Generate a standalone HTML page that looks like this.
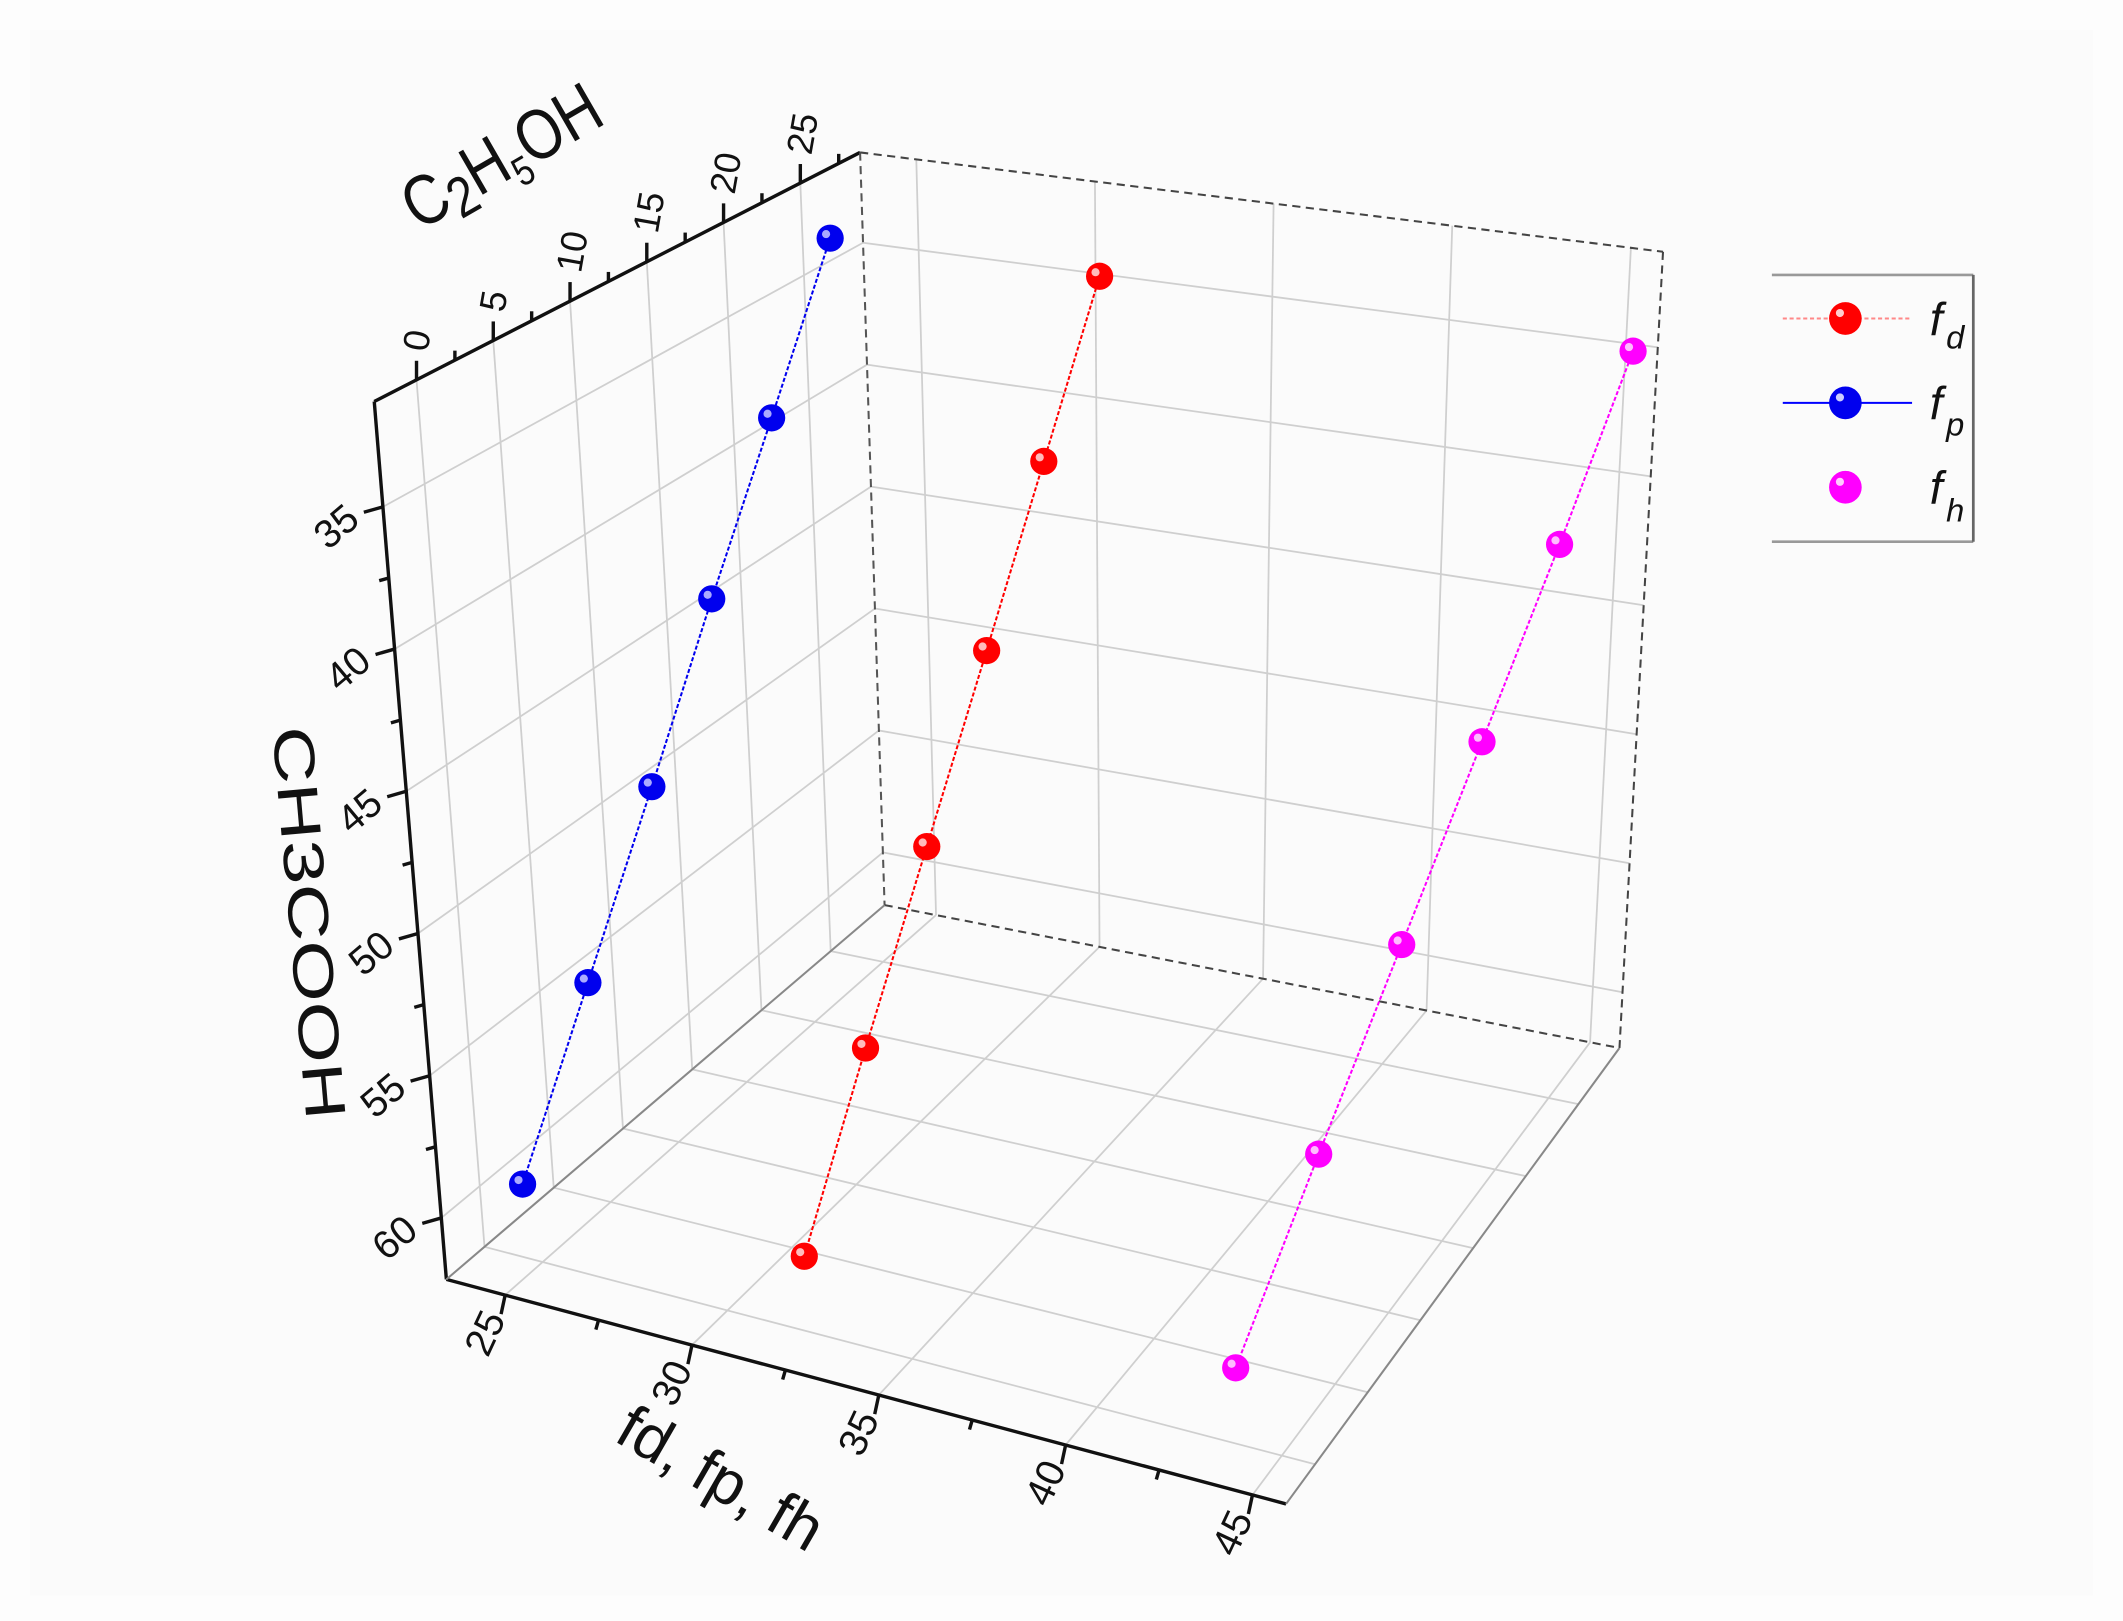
<!DOCTYPE html>
<html><head><meta charset="utf-8"><style>
html,body{margin:0;padding:0;background:#fff}
svg{display:block}
text{font-family:"Liberation Sans",sans-serif;fill:#111}
</style></head><body>
<svg id="s" width="2123" height="1621" viewBox="0 0 1560 1191" preserveAspectRatio="none" xmlns="http://www.w3.org/2000/svg">
<rect x="0" y="0" width="1560" height="1191" fill="#fdfdfd"/>
<rect x="22" y="22" width="1516" height="1150" fill="#fbfbfb"/>
<g id="grid" stroke="#cfcfcf" stroke-width="1.3" fill="none"></g>
<g id="frame" fill="none"></g>
<g id="data"></g>
<g id="labels"></g>
<text x="308" y="170" font-size="52" transform="rotate(-30 308 170)" textLength="160" lengthAdjust="spacingAndGlyphs">C<tspan font-size="42" dy="8">2</tspan><tspan dy="-8">H</tspan><tspan font-size="30" dy="10">5</tspan><tspan dy="-10">OH</tspan></text>
<text x="200" y="535" font-size="42" transform="rotate(85 200 535)" textLength="290" lengthAdjust="spacingAndGlyphs">CH3COOH</text>
<text x="450" y="1058" font-size="46" transform="rotate(30 450 1058)">fd, fp, fh</text>
<g>
<line x1="1302" y1="202" x2="1450" y2="202" stroke="#999" stroke-width="2"/>
<line x1="1302" y1="398" x2="1450" y2="398" stroke="#999" stroke-width="2"/>
<line x1="1450" y1="202" x2="1450" y2="398" stroke="#666" stroke-width="2"/>
<line x1="1310" y1="234" x2="1405" y2="234" stroke="#f88" stroke-width="1.5" stroke-dasharray="3,2"/>
<line x1="1310" y1="296" x2="1405" y2="296" stroke="#00f" stroke-width="1.5"/>
<circle cx="1356" cy="234" r="12" fill="#f00"/><circle cx="1352" cy="230" r="3" fill="#fcc"/>
<circle cx="1356" cy="296" r="12" fill="#00e"/><circle cx="1352" cy="292" r="3" fill="#ccf"/>
<circle cx="1356" cy="358" r="12" fill="#f0f"/><circle cx="1352" cy="354" r="3" fill="#fcf"/>
<text x="1418" y="246" font-size="34" font-style="italic">f</text><text x="1430" y="256" font-size="24" font-style="italic">d</text>
<text x="1418" y="308" font-size="34" font-style="italic">f</text><text x="1430" y="320" font-size="24" font-style="italic">p</text>
<text x="1418" y="370" font-size="34" font-style="italic">f</text><text x="1430" y="383" font-size="24" font-style="italic">h</text>
</g>
<script>
(function(){
var NS="http://www.w3.org/2000/svg";
function el(p,t,a,txt){var e=document.createElementNS(NS,t);for(var k in a)e.setAttribute(k,a[k]);if(txt)e.textContent=txt;p.appendChild(e);return e;}
function L(a,b,t){return [a[0]+(b[0]-a[0])*t,a[1]+(b[1]-a[1])*t];}
var TLF=[275,295],TBL=[632,112],TBR=[1222,185],BLF=[328,940],BBL=[650,665],BBR=[1190,770],BFR=[945,1105];
var g=document.getElementById('grid'),fr=document.getElementById('frame'),lb=document.getElementById('labels'),dt=document.getElementById('data');
function ln(p,a,b,at){var o={x1:a[0],y1:a[1],x2:b[0],y2:b[1]};for(var k in at)o[k]=at[k];el(p,'line',o);}
var cF=function(v){return 0.087+0.158*v/5;};
var zF=function(v){return 0.12+0.162*(v-35)/5;};
var xF=function(v){return 0.07+0.2225*(v-25)/5;};
for(var v=0;v<=25;v+=5){var f=cF(v);ln(g,L(TLF,TBL,f),L(BLF,BBL,f));}
for(var v=35;v<=60;v+=5){var f=zF(v);ln(g,L(TLF,BLF,f),L(TBL,BBL,f));ln(g,L(TBL,BBL,f),L(TBR,BBR,f));}
for(var v=25;v<=45;v+=5){var f=xF(v);ln(g,L(TBL,TBR,f),L(BBL,BBR,f));ln(g,L(BLF,BFR,f),L(BBL,BBR,f));}
for(var v=0;v<=25;v+=5){var f=cF(v);ln(g,L(BLF,BBL,f),L(BFR,BBR,f));}
var k={stroke:'#111','stroke-width':2.5};
ln(fr,TLF,TBL,k);ln(fr,TLF,BLF,k);ln(fr,BLF,BFR,k);
ln(fr,TBL,BBL,{stroke:'#555','stroke-width':1.5,'stroke-dasharray':'6,4'});
ln(fr,TBL,TBR,{stroke:'#444','stroke-width':1.5,'stroke-dasharray':'6,4'});
ln(fr,TBR,BBR,{stroke:'#444','stroke-width':1.5,'stroke-dasharray':'6,4'});
ln(fr,BBL,BBR,{stroke:'#444','stroke-width':1.5,'stroke-dasharray':'6,4'});
ln(fr,BLF,BBL,{stroke:'#888','stroke-width':1.5});
ln(fr,BFR,BBR,{stroke:'#888','stroke-width':1.5});
for(var v=0;v<=27.5;v+=2.5){var p=L(TLF,TBL,cF(v));var big=(v%5==0);ln(fr,p,[p[0],p[1]-(big?14:7)],k);
 if(big){var q=[p[0]+8,p[1]-20];el(lb,'text',{x:q[0],y:q[1],'font-size':27,transform:'rotate(-80 '+q[0]+' '+q[1]+')','text-anchor':'start'},String(v));}}
for(var v=35;v<=60;v+=2.5){var p=L(TLF,BLF,zF(v));var big=(v%5==0);ln(fr,p,[p[0]-(big?14:7),p[1]+(big?4:2)],k);
 if(big){var q=[p[0]-28,p[1]+22];el(lb,'text',{x:q[0],y:q[1],'font-size':29,'text-anchor':'middle',transform:'rotate(-40 '+q[0]+' '+q[1]+')'},String(v));}}
for(var v=25;v<=45;v+=2.5){var p=L(BLF,BFR,xF(v));var big=(v%5==0);ln(fr,p,[p[0]-(big?3:2),p[1]+(big?14:7)],k);
 if(big){var q=[p[0]-6,p[1]+32];el(lb,'text',{x:q[0],y:q[1],'font-size':29,'text-anchor':'middle',transform:'rotate(-65 '+q[0]+' '+q[1]+')'},String(v));}}
var S=[{c:'#00e',h:'#aaf',p:[[610,175],[567,307],[523,440],[479,578],[432,722],[384,870]]},
{c:'#f00',h:'#fbb',p:[[808,203],[767,339],[725,478],[681,622],[636,770],[591,923]]},
{c:'#f0f',h:'#fbf',p:[[1200,258],[1146,400],[1089,545],[1030,694],[969,848],[908,1005]]}];
S.forEach(function(s){var d='M'+s.p.map(function(q){return q.join(',')}).join(' L');
 el(dt,'path',{d:d,stroke:s.c,'stroke-width':1.5,fill:'none','stroke-dasharray':'3,1.5'});
 s.p.forEach(function(q){el(dt,'circle',{cx:q[0],cy:q[1],r:10,fill:s.c});el(dt,'circle',{cx:q[0]-3,cy:q[1]-3,r:3,fill:s.h});});});
})();
</script>
</svg>
</body></html>
